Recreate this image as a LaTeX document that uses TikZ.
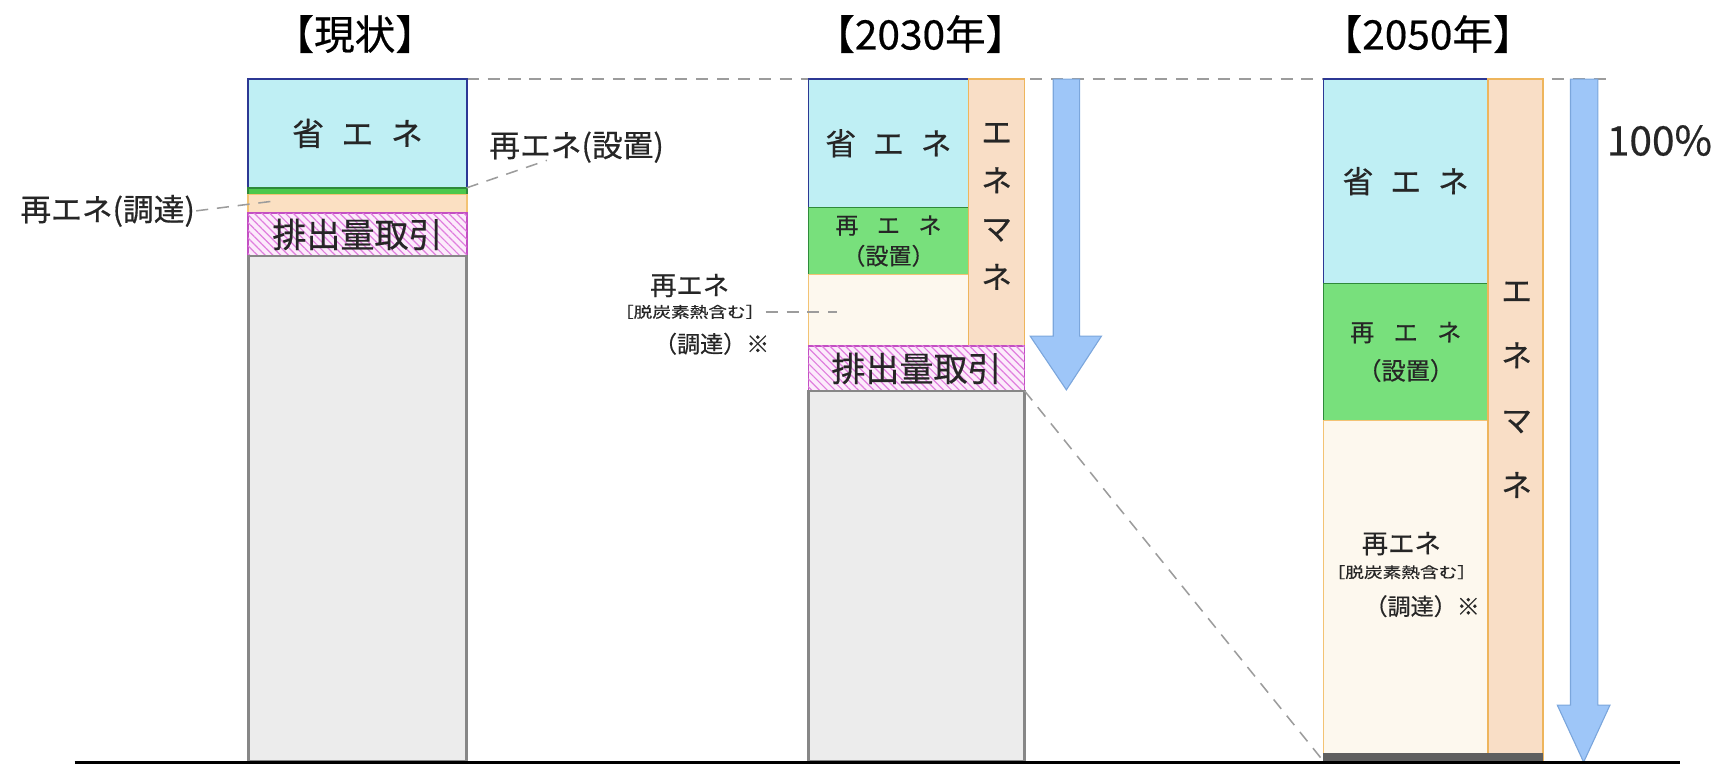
\documentclass[tikz,border=0pt]{standalone}
\usepackage{fontspec}
\setmainfont{Noto Sans CJK JP}[FakeBold=0.5]
\usetikzlibrary{patterns.meta,backgrounds}
\definecolor{saveF}{HTML}{BFEFF4}
\definecolor{saveD}{HTML}{2C3894}
\definecolor{greenF}{HTML}{78E07C}
\definecolor{greenD}{HTML}{2F8A3A}
\definecolor{green1F}{HTML}{4CC84C}
\definecolor{procF}{HTML}{FDF8EE}
\definecolor{procD}{HTML}{F3C374}
\definecolor{peachF}{HTML}{FBE0C2}
\definecolor{enemaF}{HTML}{F9DEC6}
\definecolor{enemaD}{HTML}{EEB55C}
\definecolor{tradeBg}{HTML}{FCEBFB}
\definecolor{tradeL}{HTML}{E07EDE}
\definecolor{tradeD}{HTML}{C24FC2}
\definecolor{grayF}{HTML}{ECECEC}
\definecolor{grayD}{HTML}{878787}
\definecolor{arrowF}{HTML}{9EC6F8}
\definecolor{arrowD}{HTML}{7BA6DC}
\definecolor{dashC}{HTML}{9C9C9C}
\definecolor{txt}{HTML}{262626}
\newcommand\jgap{\hspace{0.55em}}
\begin{document}
\begin{tikzpicture}[x=1pt,y=-1pt,
  seg/.style={draw, line width=1.4pt, inner sep=0pt, outer sep=0pt, anchor=north west, text=txt, align=center},
  savebox/.style={seg, fill=saveF, draw=saveD, font=\fontsize{29}{34}\selectfont},
  greenbox/.style={seg, fill=greenF, draw=greenD},
  procbox/.style={seg, fill=procF, draw=procD},
  enemabox/.style={seg, fill=enemaF, draw=enemaD},
  tradebox/.style={seg, fill=tradeBg, draw=tradeD, postaction={pattern={Lines[angle=135,distance=5pt,line width=1.1pt]}, pattern color=tradeL}, font=\fontsize{31}{36}\selectfont},
  graybox/.style={seg, fill=grayF, draw=grayD, line width=2.4pt},
  lbl/.style={inner sep=1pt, text=txt, align=center},
  dl/.style={draw=dashC, line width=1.4pt, dash pattern=on 11pt off 8pt},
  bluearrow/.style={fill=arrowF, draw=arrowD, line width=1pt},
  title/.style={text=black, inner sep=0pt, font=\fontsize{37}{42}\selectfont}
]
\useasboundingbox (0,0) rectangle (1568,698);

% titles
\node[title] (t1) at (323,31) {【現状】};
\node[title] (t2) at (838,31) {【2030年】};
\node[title] (t3) at (1300,31) {【2050年】};

% bar 1 (current)
\node[savebox, minimum width=199pt, minimum height=99pt] (s1) at (226,72) {省\jgap エ\jgap ネ};
\node[greenbox, fill=green1F, minimum width=199pt, minimum height=6pt] (r1) at (226,171) {};
\node[procbox, fill=peachF, minimum width=199pt, minimum height=17pt] (p1) at (226,177) {};
\node[tradebox, minimum width=199pt, minimum height=39pt] (e1) at (226,194) {排出量取引};
\node[graybox, minimum width=199pt, minimum height=460pt] (g1) at (226,233) {};

% bar 2 (2030)
\node[savebox, font=\fontsize{28}{34}\selectfont, minimum width=146pt, minimum height=117pt] (s2) at (736,72) {省\jgap エ\jgap ネ};
\node[greenbox, font=\fontsize{21}{28}\selectfont, minimum width=146pt, minimum height=61pt] (r2) at (736,189) {再\hspace{0.8em}エ\hspace{0.8em}ネ\\（設置）};
\node[procbox, minimum width=146pt, minimum height=65pt] (p2) at (736,250) {};
\node[enemabox, minimum width=51pt, minimum height=243pt] (m2) at (882,72) {};
\node[lbl, font=\fontsize{28}{44}\selectfont] (m2t) at (907.5,188) {エ\\ネ\\マ\\ネ};
\node[tradebox, minimum width=197pt, minimum height=41pt] (e2) at (736,315) {排出量取引};
\node[graybox, minimum width=197pt, minimum height=337pt] (g2) at (736,356) {};

% bar 3 (2050)
\node[savebox, font=\fontsize{28}{34}\selectfont, minimum width=150pt, minimum height=186pt] (s3) at (1205,72) {省\jgap エ\jgap ネ};
\node[greenbox, font=\fontsize{22}{35}\selectfont, minimum width=150pt, minimum height=125pt] (r3) at (1205,258) {再\hspace{0.8em}エ\hspace{0.8em}ネ\\（設置）};
\node[procbox, minimum width=150pt, minimum height=310pt] (p3) at (1205,383) {};
\node[enemabox, minimum width=50pt, minimum height=621pt] (m3) at (1355,72) {};
\node[lbl, font=\fontsize{28}{59}\selectfont] (m3t) at (1381,355) {エ\\ネ\\マ\\ネ};
\fill[grayD!70!black] (1205,686) rectangle (1405,693);

% labels in bar 3
\node[lbl, font=\fontsize{24}{28}\selectfont] (T3a) at (1276,495) {再エネ};
\node[lbl, font=\fontsize{17}{20}\selectfont] (T3b) at (1276,521) {\scalebox{1}[0.8]{［脱炭素熱含む］}};
\node[lbl, font=\fontsize{21}{24}\selectfont] (T3c) at (1295,552) {（調達）※};

% side labels
\node[lbl, font=\fontsize{28}{32}\selectfont] (L1) at (525,134) {再エネ(設置)};
\coordinate (c1) at (498,146);
\node[lbl, font=\fontsize{28}{32}\selectfont] (L2) at (98,192) {再エネ(調達)};
\coordinate (c2) at (250,183);
\node[lbl, font=\fontsize{24}{28}\selectfont] (L3a) at (628,260) {再エネ};
\node[lbl, font=\fontsize{17}{20}\selectfont] (L3b) at (628,284) {\scalebox{1}[0.8]{［脱炭素熱含む］}};
\node[lbl, font=\fontsize{21}{24}\selectfont] (L3c) at (648,313) {（調達）※};
\coordinate (c3) at (762,284);

\draw[dl] (r1.north east) -- (c1);
\draw[dl] (L2.east) -- (c2);
\draw[dl] (L3b.east) -- (c3);
\draw[dl] (e2.south east) -- (p3.south west);

% arrows
\path[bluearrow] (959,72) -- (983,72) -- (983,306) -- (1003,306) -- (971,355) -- (938,306) -- (959,306) -- cycle;
\path[bluearrow] (1430,72) -- (1455,72) -- (1455,642) -- (1466,642) -- (1442,694) -- (1418,642) -- (1430,642) -- cycle;

\node[lbl, font=\fontsize{37}{42}\selectfont] (pct) at (1511,128) {100\%};

% top reference line
\coordinate (topend) at (1469,72);
\begin{scope}[on background layer]
\draw[dl] (s1.north east) -- (topend);
\end{scope}

% baseline
\coordinate (bl) at (68,694);
\coordinate (br) at (1530,694);
\draw[line width=3pt, black] (bl) -- (br);
\end{tikzpicture}
\end{document}
